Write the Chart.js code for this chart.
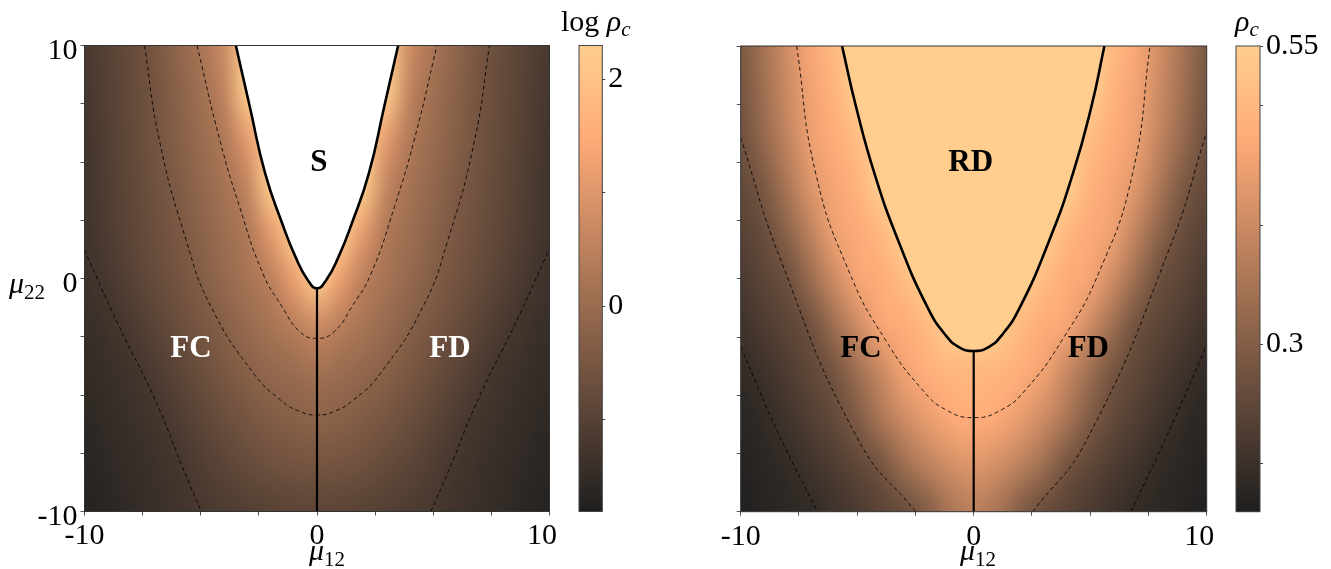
<!DOCTYPE html>
<html>
<head>
<meta charset="UTF-8">
<title>rho_c phase diagrams</title>
<script src="https://cdn.jsdelivr.net/npm/chart.js"></script>
<style>
  body { margin: 0; background: #fff; }
  .box { position: absolute; top: 0; }
</style>
</head>
<body>
<div class="box" style="left:0px"><canvas id="leftPanel" width="590" height="569"></canvas></div>
<div class="box" style="left:656px"><canvas id="rightPanel" width="600" height="569"></canvas></div>
<div class="box" style="left:560px"><canvas id="leftBar" width="100" height="569"></canvas></div>
<div class="box" style="left:1216px"><canvas id="rightBar" width="115" height="569"></canvas></div>

<script>
// grid of the two maps (columns: mu12, rows: mu22 from top to bottom)
const mu12Grid = [-10, -9, -8, -7, -6, -5, -4, -3, -2, -1, 0, 1, 2, 3, 4, 5, 6, 7, 8, 9, 10];
const mu22Grid = [10, 8, 6, 4, 2, 0, -2, -4, -6, -8, -10];

// log rho_c, left map (S region holds the top value)
const logRhoRows = [
  [-1.19,-0.99,-0.78,-0.52,-0.17,0.20,0.75,2.30,2.30,2.30,2.30,2.30,2.30,2.30,0.75,0.20,-0.17,-0.52,-0.78,-0.99,-1.19],
  [-1.23,-1.02,-0.79,-0.58,-0.25,0.07,0.55,2.30,2.30,2.30,2.30,2.30,2.30,2.30,0.55,0.07,-0.25,-0.58,-0.79,-1.02,-1.23],
  [-1.28,-1.05,-0.82,-0.59,-0.31,-0.02,0.30,1.10,2.30,2.30,2.30,2.30,2.30,1.10,0.30,-0.02,-0.31,-0.59,-0.82,-1.05,-1.28],
  [-1.30,-1.08,-0.86,-0.64,-0.41,-0.12,0.14,0.60,2.30,2.30,2.30,2.30,2.30,0.60,0.14,-0.12,-0.41,-0.64,-0.86,-1.08,-1.30],
  [-1.32,-1.11,-0.90,-0.69,-0.48,-0.23,0.04,0.28,1.10,2.30,2.30,2.30,1.10,0.28,0.04,-0.23,-0.48,-0.69,-0.90,-1.11,-1.32],
  [-1.36,-1.22,-1.00,-0.78,-0.58,-0.35,-0.08,0.18,0.46,1.20,2.30,1.20,0.46,0.18,-0.08,-0.35,-0.58,-0.78,-1.00,-1.22,-1.36],
  [-1.44,-1.34,-1.16,-0.95,-0.72,-0.50,-0.28,-0.04,0.19,0.43,0.74,0.43,0.19,-0.04,-0.28,-0.50,-0.72,-0.95,-1.16,-1.34,-1.44],
  [-1.52,-1.42,-1.32,-1.15,-0.93,-0.71,-0.49,-0.27,-0.12,0.00,0.12,0.00,-0.12,-0.27,-0.49,-0.71,-0.93,-1.15,-1.32,-1.42,-1.52],
  [-1.60,-1.50,-1.40,-1.29,-1.11,-0.91,-0.70,-0.54,-0.39,-0.27,-0.21,-0.27,-0.39,-0.54,-0.70,-0.91,-1.11,-1.29,-1.40,-1.50,-1.60],
  [-1.67,-1.57,-1.48,-1.38,-1.26,-1.09,-0.93,-0.78,-0.66,-0.58,-0.54,-0.58,-0.66,-0.78,-0.93,-1.09,-1.26,-1.38,-1.48,-1.57,-1.67],
  [-1.73,-1.63,-1.52,-1.42,-1.32,-1.21,-1.13,-1.05,-0.99,-0.93,-0.91,-0.93,-0.99,-1.05,-1.13,-1.21,-1.32,-1.42,-1.52,-1.63,-1.73]
];

// rho_c, right map
const rhoRows = [
  [.289,.347,.406,.464,.503,.55,.55,.55,.55,.55,.55,.55,.55,.55,.55,.55,.503,.464,.406,.347,.289],
  [.281,.339,.398,.453,.488,.55,.55,.55,.55,.55,.55,.55,.55,.55,.55,.55,.488,.453,.398,.339,.281],
  [.269,.324,.386,.445,.472,.511,.55,.55,.55,.55,.55,.55,.55,.55,.55,.511,.472,.445,.386,.324,.269],
  [.254,.289,.355,.425,.460,.488,.55,.55,.55,.55,.55,.55,.55,.55,.55,.488,.460,.425,.355,.289,.254],
  [.238,.261,.312,.382,.449,.468,.499,.55,.55,.55,.55,.55,.55,.55,.499,.468,.449,.382,.312,.261,.238],
  [.222,.246,.265,.332,.402,.460,.472,.511,.55,.55,.55,.55,.55,.511,.472,.460,.402,.332,.265,.246,.222],
  [.203,.226,.246,.271,.336,.402,.462,.472,.503,.55,.55,.55,.503,.472,.462,.402,.336,.271,.246,.226,.203],
  [.187,.203,.226,.250,.277,.336,.394,.453,.480,.495,.499,.495,.480,.453,.394,.336,.277,.250,.226,.203,.187],
  [.176,.187,.207,.230,.254,.293,.355,.402,.441,.468,.480,.468,.441,.402,.355,.293,.254,.230,.207,.187,.176],
  [.168,.178,.187,.207,.226,.250,.277,.336,.378,.410,.425,.410,.378,.336,.277,.250,.226,.207,.187,.178,.168],
  [.164,.172,.180,.187,.203,.222,.242,.259,.297,.351,.375,.351,.297,.259,.242,.222,.203,.187,.180,.172,.164]
];

// phase boundaries and dashed contours [mu12, mu22]
const leftBoundary = [[-3.49,10],[-2.89,7.37],[-2.23,4.51],[-1.5,2.37],[-0.93,0.94],[-0.4,-0.06],[0,-0.42],[0.4,-0.06],[0.93,0.94],[1.5,2.37],[2.23,4.51],[2.89,7.37],[3.49,10]];
const leftSplit = [[0,-0.42],[0,-10]];
const leftDash1 = [[-5.16,10],[-4.18,5.94],[-3.33,3.08],[-2.33,0.22],[-1.5,-1.21],[-0.74,-2.28],[0,-2.57],[0.74,-2.28],[1.5,-1.21],[2.33,0.22],[3.33,3.08],[4.18,5.94],[5.16,10]];
const leftDash2 = [[-7.42,10],[-6.78,5.94],[-5.63,1.65],[-4.56,-1.21],[-2.73,-4.07],[-1.59,-5.2],[-0.8,-5.68],[0,-5.86],[0.8,-5.68],[1.59,-5.2],[2.73,-4.07],[4.56,-1.21],[5.63,1.65],[6.78,5.94],[7.42,10]];
const leftDash3a = [[-10,1.22],[-8.51,-2.06],[-6.97,-5.19],[-5.7,-8.31],[-4.98,-10]];
const leftDash3b = [[4.9,-10],[5.64,-8.3],[6.95,-5.15],[8.5,-2.0],[10,1.28]];

const rightBoundary = [[-5.65,10],[-5.05,7.39],[-4.26,4.53],[-3.25,1.67],[-1.97,-1.25],[-1.18,-2.45],[-0.6,-2.95],[0,-3.1],[0.6,-2.95],[1.18,-2.45],[1.97,-1.25],[3.25,1.67],[4.26,4.53],[5.05,7.39],[5.61,10]];
const rightSplit = [[0,-3.1],[0,-10]];
const rightDash1 = [[-7.6,10],[-6.78,4.53],[-5.32,0.24],[-3.79,-2.62],[-2.2,-4.77],[-1.18,-5.63],[0,-5.96],[1.18,-5.63],[2.22,-4.77],[3.8,-2.62],[5.36,0.24],[6.82,4.53],[7.57,10]];
const rightDash2a = [[-10,6.06],[-8.31,0.88],[-4.95,-6.92],[-2.49,-10]];
const rightDash2b = [[2.53,-10],[4.85,-6.92],[8.43,1.38],[10,6.3]];
const rightDash3a = [[-10,-2.92],[-8.4,-6.6],[-6.7,-10]];
const rightDash3b = [[6.75,-10],[8.4,-6.5],[10,-2.84]];

// ticks
const axisTicks = [-10, -7.5, -5, -2.5, 0, 2.5, 5, 7.5, 10];
const axisLabels = { '-10': '-10', '0': '0', '10': '10\u2002' };
const logRange = [-1.81, 2.30];
const logBarTicks = [-1, 0, 1, 2];
const logBarLabelled = [0, 2];
const rhoRange = [0.16, 0.55];
const rhoBarTicks = [0.2, 0.3, 0.4, 0.5, 0.55];
const rhoBarLabelled = [0.3, 0.55];

const serif = "'Liberation Serif', 'DejaVu Serif', serif";

// copper map seen through a light veil
function copper(v, range) {
  const t = Math.min(1, Math.max(0, (v - range[0]) / (range[1] - range[0])));
  const a = 0.88, w = 255 * (1 - a);
  return [Math.min(1, 1.25 * t), 0.7812 * t, 0.4975 * t].map(c => Math.round(w + a * 255 * c));
}
const rgb = c => `rgb(${c[0]},${c[1]},${c[2]})`;

function drawParts(ctx, spec) {
  ctx.textBaseline = 'alphabetic';
  ctx.textAlign = 'left';
  const fontOf = p => `${p.style || ''} ${p.size}px ${serif}`;
  let total = 0;
  spec.parts.forEach(p => { ctx.font = fontOf(p); total += ctx.measureText(p.t).width; });
  let x = spec.center ? spec.x - total / 2 : spec.x;
  ctx.fillStyle = '#000';
  spec.parts.forEach(p => {
    ctx.font = fontOf(p);
    ctx.fillText(p.t, x, spec.y + (p.dy || 0));
    x += ctx.measureText(p.t).width;
  });
}

const heatmap = {
  id: 'heatmap',
  beforeDatasetsDraw(chart, args, opts) {
    const { ctx, chartArea: a, scales: { x, y } } = chart;
    const off = document.createElement('canvas');
    off.width = mu12Grid.length;
    off.height = mu22Grid.length;
    const octx = off.getContext('2d');
    const img = octx.createImageData(off.width, off.height);
    opts.rows.forEach((row, j) => row.forEach((v, i) => {
      const c = copper(v, opts.range), k = 4 * (j * off.width + i);
      img.data[k] = c[0]; img.data[k + 1] = c[1]; img.data[k + 2] = c[2]; img.data[k + 3] = 255;
    }));
    octx.putImageData(img, 0, 0);
    const hx = (mu12Grid[1] - mu12Grid[0]) / 2, hy = (mu22Grid[0] - mu22Grid[1]) / 2;
    const x0 = x.getPixelForValue(mu12Grid[0] - hx);
    const x1 = x.getPixelForValue(mu12Grid[mu12Grid.length - 1] + hx);
    const y0 = y.getPixelForValue(mu22Grid[0] + hy);
    const y1 = y.getPixelForValue(mu22Grid[mu22Grid.length - 1] - hy);
    ctx.save();
    ctx.beginPath();
    ctx.rect(a.left, a.top, a.width, a.height);
    ctx.clip();
    ctx.imageSmoothingEnabled = true;
    ctx.imageSmoothingQuality = 'high';
    ctx.drawImage(off, x0, y0, x1 - x0, y1 - y0);
    ctx.restore();
  }
};

const decorations = {
  id: 'decorations',
  afterDatasetsDraw(chart, args, opts) {
    const { ctx, chartArea: a, scales: { x, y } } = chart;
    ctx.save();
    ctx.strokeStyle = '#333';
    ctx.lineWidth = 1;
    ctx.strokeRect(a.left, a.top, a.width, a.height);
    ctx.font = `bold 31px ${serif}`;
    ctx.textAlign = 'center';
    ctx.textBaseline = 'middle';
    opts.regions.forEach(r => {
      ctx.fillStyle = r.color;
      ctx.fillText(r.text, x.getPixelForValue(r.at[0]), y.getPixelForValue(r.at[1]));
    });
    opts.texts.forEach(t => drawParts(ctx, t));
    ctx.restore();
  }
};

const colorbar = {
  id: 'colorbar',
  beforeDraw(chart, args, opts) {
    const { ctx, chartArea: a, scales: { y } } = chart;
    ctx.save();
    for (let py = Math.floor(a.top); py < a.bottom; py++) {
      ctx.fillStyle = rgb(copper(y.getValueForPixel(py + 0.5), opts.range));
      ctx.fillRect(a.left, py, a.width, 1);
    }
    ctx.strokeStyle = '#444';
    ctx.lineWidth = 1;
    ctx.strokeRect(a.left, a.top, a.width, a.height);
    drawParts(ctx, opts.title);
    ctx.restore();
  }
};

const pts = arr => arr.map(p => ({ x: p[0], y: p[1] }));
const curve = (arr, extra) => Object.assign({
  data: pts(arr), pointRadius: 0, borderColor: '#000',
  borderWidth: 1, tension: 0.5, fill: false
}, extra);
const dashed = arr => curve(arr, { borderDash: [4, 3], borderColor: 'rgba(0,0,0,0.85)', borderWidth: 1 });

function panel(id, p) {
  return new Chart(document.getElementById(id), {
    type: 'line',
    data: {
      datasets: [
        curve(p.boundary, { borderWidth: 2.6, fill: 'end', backgroundColor: p.inside }),
        curve(p.split, { borderWidth: 2.2, tension: 0 }),
        ...p.dashes.map(dashed)
      ]
    },
    options: {
      responsive: false,
      animation: false,
      events: [],
      layout: { padding: p.padding },
      plugins: {
        legend: { display: false },
        tooltip: { enabled: false },
        heatmap: { rows: p.rows, range: p.range },
        decorations: { regions: p.regions, texts: p.texts }
      },
      scales: {
        x: {
          type: 'linear', min: -10, max: 10,
          afterBuildTicks: s => { s.ticks = axisTicks.map(v => ({ value: v })); },
          afterFit: s => { s.height = p.xHeight; },
          ticks: {
            autoSkip: false, maxRotation: 0, padding: 3, color: '#000',
            font: { family: serif, size: 30 },
            callback: v => axisLabels[String(v)] || ''
          },
          grid: { drawOnChartArea: false, tickLength: 4, color: '#555' },
          border: { display: false }
        },
        y: {
          type: 'linear', min: -10, max: 10,
          afterBuildTicks: s => { s.ticks = axisTicks.map(v => ({ value: v })); },
          afterFit: s => { s.width = p.yWidth; },
          ticks: {
            autoSkip: false, padding: 3, color: '#000', labelOffset: 6,
            font: { family: serif, size: 30 },
            callback: v => (p.yLabels && axisLabels[String(v)]) ? String(v) : ''
          },
          grid: { drawOnChartArea: false, tickLength: 4, color: '#555' },
          border: { display: false }
        }
      }
    },
    plugins: [heatmap, decorations]
  });
}

function bar(id, b) {
  return new Chart(document.getElementById(id), {
    type: 'scatter',
    data: { datasets: [] },
    options: {
      responsive: false,
      animation: false,
      events: [],
      layout: { padding: b.padding },
      plugins: {
        legend: { display: false },
        tooltip: { enabled: false },
        colorbar: { range: b.range, title: b.title }
      },
      scales: {
        x: { display: false, min: 0, max: 1 },
        y: {
          position: 'right', min: b.range[0], max: b.range[1],
          afterBuildTicks: s => { s.ticks = b.ticks.map(v => ({ value: v })); },
          afterFit: s => { s.width = b.width; },
          ticks: {
            autoSkip: false, padding: 3, color: '#000',
            font: { family: serif, size: 30 },
            callback: v => b.labelled.includes(v) ? String(v) : ''
          },
          grid: { drawOnChartArea: false, tickLength: 3, color: '#444' },
          border: { display: false }
        }
      }
    },
    plugins: [colorbar]
  });
}

const mu = (sub, x, y, center) => ({
  x, y, center,
  parts: [{ t: 'μ', style: 'italic', size: 30 }, { t: sub, size: 21, dy: 6 }]
});

panel('leftPanel', {
  rows: logRhoRows, range: logRange,
  boundary: leftBoundary, split: leftSplit, inside: '#ffffff',
  dashes: [leftDash1, leftDash2, leftDash3a, leftDash3b],
  padding: { left: 0, top: 45.5, right: 40.5, bottom: 0 },
  yWidth: 84.5, xHeight: 57.5, yLabels: true,
  regions: [
    { text: 'S', at: [0.08, 4.94], color: '#000' },
    { text: 'FC', at: [-5.42, -3.03], color: '#fff' },
    { text: 'FD', at: [5.72, -3.03], color: '#fff' }
  ],
  texts: [mu('22', 9, 293, false), mu('12', 327, 560, true)]
});

panel('rightPanel', {
  rows: rhoRows, range: rhoRange,
  boundary: rightBoundary, split: rightSplit, inside: rgb(copper(rhoRange[1], rhoRange)),
  dashes: [rightDash1, rightDash2a, rightDash2b, rightDash3a, rightDash3b],
  padding: { left: 0, top: 46, right: 49.3, bottom: 0 },
  yWidth: 84.7, xHeight: 57.3, yLabels: false,
  regions: [
    { text: 'RD', at: [-0.13, 4.96], color: '#000' },
    { text: 'FC', at: [-4.84, -3.03], color: '#000' },
    { text: 'FD', at: [4.92, -3.03], color: '#000' }
  ],
  texts: [mu('12', 322, 560, true)]
});

bar('leftBar', {
  range: logRange, ticks: logBarTicks, labelled: logBarLabelled,
  padding: { left: 19, top: 45.5, right: 0, bottom: 57.5 }, width: 57.7,
  title: { x: 1, y: 31, parts: [{ t: 'log ', size: 30 }, { t: 'ρ', style: 'italic', size: 30 }, { t: 'c', style: 'italic', size: 21, dy: 5 }] }
});

bar('rightBar', {
  range: rhoRange, ticks: rhoBarTicks, labelled: rhoBarLabelled,
  padding: { left: 20, top: 46, right: 0, bottom: 57.3 }, width: 71,
  title: { x: 19, y: 31, parts: [{ t: 'ρ', style: 'italic', size: 30 }, { t: 'c', style: 'italic', size: 21, dy: 5 }] }
});
</script>
</body>
</html>
